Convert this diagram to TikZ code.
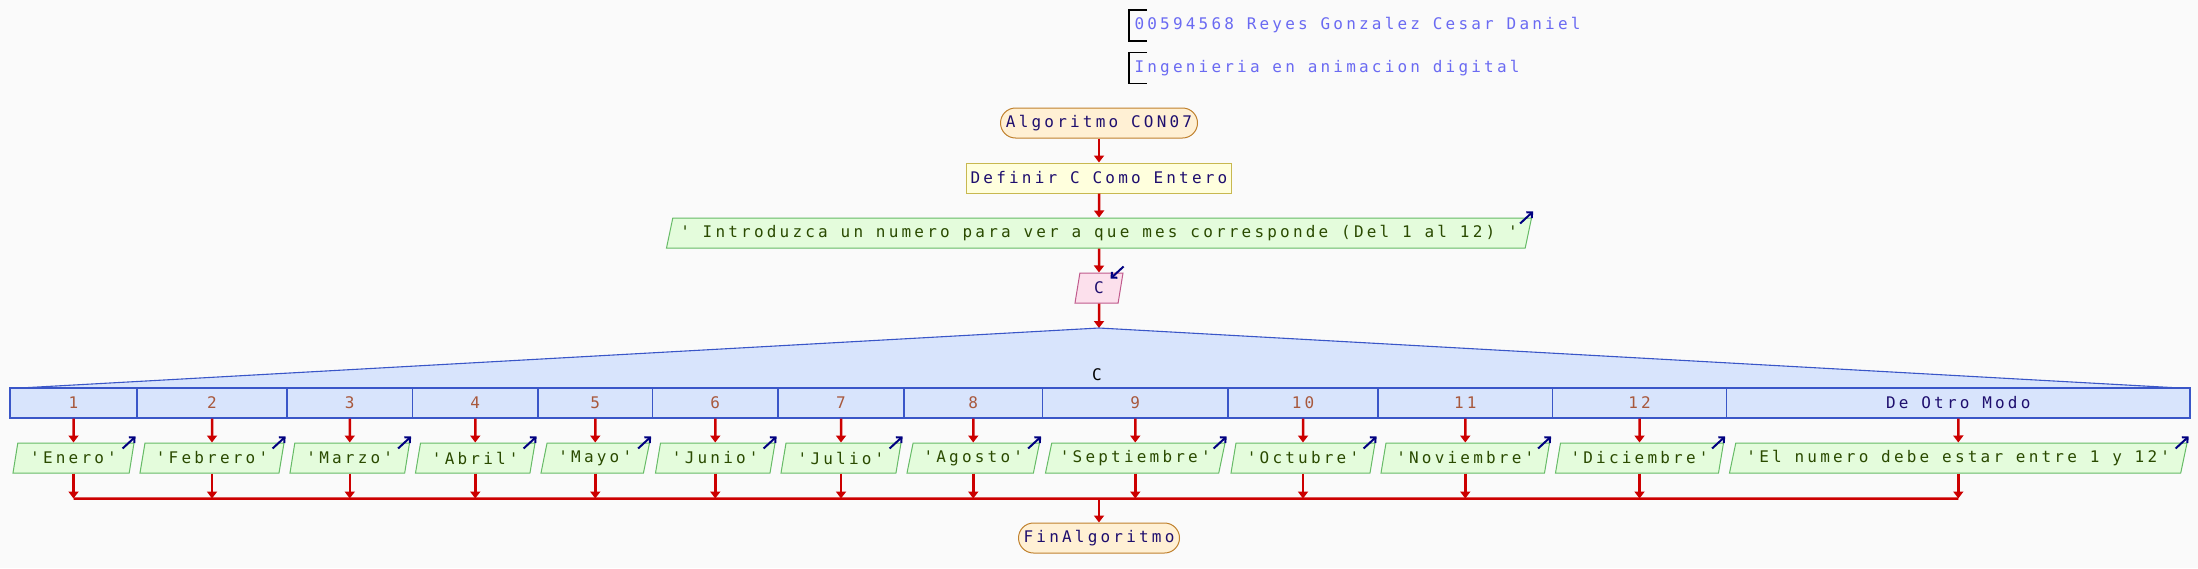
\documentclass[tikz,border=0pt]{standalone}
\usepackage{fontspec}
\setmonofont{DejaVu Sans Mono}[LetterSpace=20]
\usetikzlibrary{arrows.meta,shapes.geometric,positioning,calc}

\definecolor{fondo}{HTML}{FAFAFA}
\definecolor{rojo}{HTML}{CC0000}
\definecolor{azulflecha}{HTML}{000080}
\definecolor{capsfondo}{HTML}{FFF0D4}
\definecolor{capsborde}{HTML}{C0812E}
\definecolor{defondo}{HTML}{FFFFDD}
\definecolor{deborde}{HTML}{C8B850}
\definecolor{verdefondo}{HTML}{E4FCDC}
\definecolor{verdeborde}{HTML}{66BB66}
\definecolor{verdetexto}{HTML}{2A4A00}
\definecolor{rosafondo}{HTML}{FCE0EC}
\definecolor{rosaborde}{HTML}{C05A8C}
\definecolor{azulfondo}{HTML}{D8E4FC}
\definecolor{azulborde}{HTML}{3A56C8}
\definecolor{numtexto}{HTML}{A8583C}
\definecolor{navytexto}{HTML}{1E0E6E}
\definecolor{comtexto}{HTML}{6A6AF2}

\tikzset{
    base/.style={font=\ttfamily\fontsize{16pt}{18pt}\selectfont, minimum height=30pt, inner sep=0pt, line width=1pt},
    terminal/.style={base, rectangle, rounded corners=15pt, draw=capsborde, fill=capsfondo, text=navytexto},
    proceso/.style={base, rectangle, draw=deborde, fill=defondo, text=navytexto},
    salida/.style={base, trapezium, trapezium left angle=68, trapezium right angle=112,
        trapezium stretches body, draw=verdeborde, fill=verdefondo, text=verdetexto},
    entrada/.style={salida, draw=rosaborde, fill=rosafondo, text=navytexto},
    caso/.style={base, rectangle, draw=azulborde, fill=azulfondo, line width=1.1pt},
    flujo/.style={draw=rojo, line width=2.5pt, -{Triangle[width=10pt,length=7pt]}},
    indica/.style={draw=azulflecha, line width=2pt, -{Straight Barb[length=4pt,width=8pt]}},
    comentario/.style={base, minimum height=0pt, anchor=west, text=comtexto}
}

\begin{document}
\begin{tikzpicture}[x=1pt, y=-1pt]
    \useasboundingbox (0,0) rectangle (2198,568);
    \fill[fondo] (0,0) rectangle (2198,568);

    % Comments
    \node[comentario] (com1) at (1134,25.5) {00594568 Reyes Gonzalez Cesar Daniel};
    \node[comentario] (com2) at (1134,68) {Ingenieria en animacion digital};
    \foreach \c in {com1, com2} {
        \draw[line width=1.1pt] ($(\c.west)+(13,-15.5)$) -- ($(\c.west)+(-5,-15.5)$)
            -- ($(\c.west)+(-5,15.5)$) -- ($(\c.west)+(13,15.5)$);
    }

    % Main column
    \node[terminal, minimum width=197pt] (inicio) at (1099,123) {Algoritmo CON07};
    \node[proceso, minimum width=265pt] (definir) at (1099,178) {Definir C Como Entero};
    \node[salida, minimum width=865pt] (pedir) at (1099,233)
        {' Introduzca un numero para ver a que mes corresponde (Del 1 al 12) '};
    \node[entrada, minimum width=48pt] (leer) at (1099,288) {C};
    \coordinate (vertice) at (1099,328);

    \draw[flujo] (inicio.south) -- (definir.north);
    \draw[flujo] (definir.south) -- (pedir.north);
    \draw[flujo] (pedir.south) -- (leer.north);
    \draw[flujo] (leer.south) -- (vertice);
    \draw[indica] ($(pedir.top right corner)+(-12,6)$) -- ($(pedir.top right corner)+(1,-6)$);
    \draw[indica] ($(leer.top right corner)+(0,-6)$) -- ($(leer.top right corner)+(-13,6)$);

    % Switch
    \fill[azulfondo] (20,388) -- (vertice) -- (2180,388) -- cycle;
    \draw[azulborde, line width=1.1pt] (20,388) -- (vertice) -- (2180,388);
    \node[base, minimum height=0pt] (variable) at (1097,375) {C};

    % Cases and outputs
    \foreach \izq/\der/\etiq/\tinta/\mes [count=\i] in {
        10/137/1/numtexto/'Enero',
        137/287/2/numtexto/'Febrero',
        287/412.5/3/numtexto/'Marzo',
        412.5/538/4/numtexto/'Abril',
        538/652.5/5/numtexto/'Mayo',
        652.5/778/6/numtexto/'Junio',
        778/904/7/numtexto/'Julio',
        904/1042.5/8/numtexto/'Agosto',
        1042.5/1228/9/numtexto/'Septiembre',
        1228/1378/10/numtexto/'Octubre',
        1378/1552.5/11/numtexto/'Noviembre',
        1552.5/1726.5/12/numtexto/'Diciembre',
        1726.5/2190/De Otro Modo/navytexto/'El numero debe estar entre 1 y 12'
    } {
        \node[caso, text=\tinta, minimum width={(\der-\izq)*1pt}] (caso\i) at ({(\izq+\der)/2},403) {\etiq};
        \node[salida, minimum width={(\der-\izq-6)*1pt}] (mes\i) at ({(\izq+\der)/2},458) {\mes};
        \coordinate (junta\i) at ($(mes\i.south)+(0,25)$);
        \draw[flujo] (caso\i.south) -- (mes\i.north);
        \draw[flujo] (mes\i.south) -- (junta\i);
        \draw[indica] ($(mes\i.top right corner)+(-12,6)$) -- ($(mes\i.top right corner)+(1,-6)$);
    }

    % End
    \node[terminal, minimum width=161pt] (fin) at (1099,538) {FinAlgoritmo};
    \draw[rojo, line width=2.5pt] (junta1) -- (junta13);
    \draw[flujo] (fin |- junta1) -- (fin.north);
\end{tikzpicture}
\end{document}
